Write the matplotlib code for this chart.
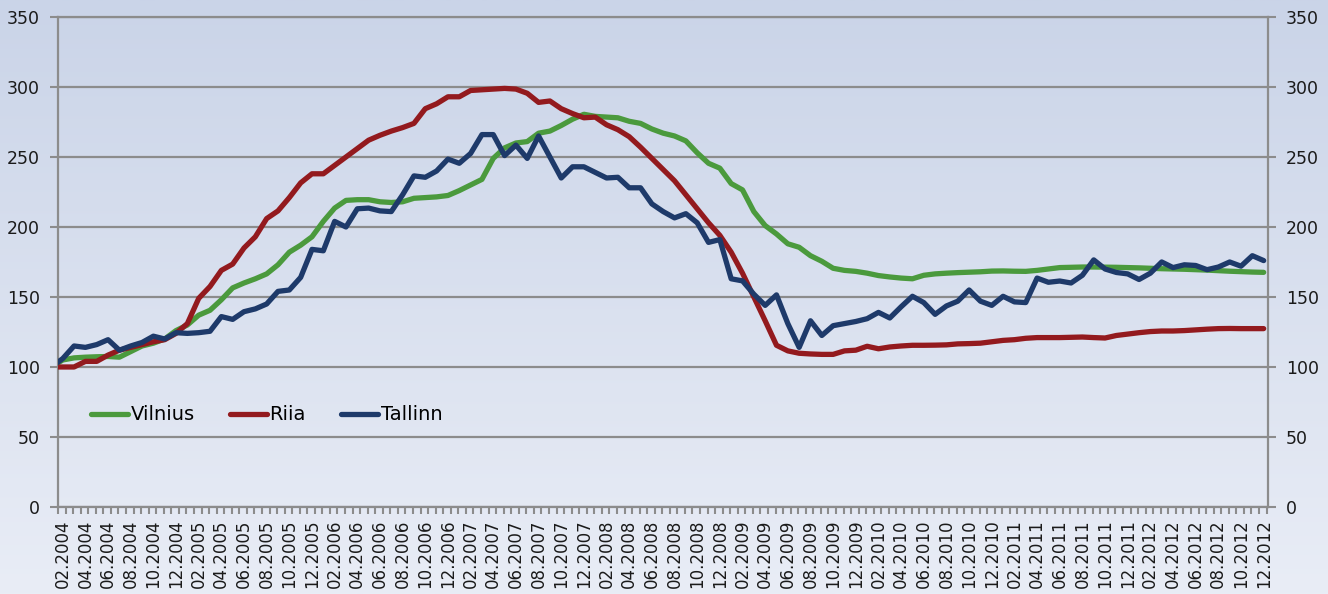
import numpy as np
import matplotlib.pyplot as plt
from matplotlib.colors import LinearSegmentedColormap

# monthly index values, 01.2004 .. 12.2012
vilnius = [100, 105, 106.5, 107, 107.3, 107.5, 107, 111, 115, 117, 120, 126,
           130, 137, 140.5, 148, 156.5, 160, 163, 166.5, 173, 182, 187, 193,
           204, 213.5, 219, 219.5, 219.5, 218, 217.5, 218, 220.5, 221, 221.5, 222.5,
           226, 230, 234, 249, 256.5, 260, 261, 267, 268.5, 272.5, 277, 280.5,
           279, 278.5, 278, 275.5, 274, 270, 267, 265, 261.5, 253, 245.5, 242,
           231, 226.5, 211, 201, 195, 188, 185.5, 179.5, 175.5, 170.5, 169, 168.3,
           167, 165.3, 164.3, 163.5, 163, 165.5, 166.5, 167, 167.4, 167.7, 168, 168.5,
           168.6, 168.4, 168.3, 169, 170, 171, 171.2, 171.4, 171.4, 171.3, 171.2, 171,
           170.8, 170.5, 170.2, 170, 169.8, 169.5, 169.2, 168.8, 168.4, 168.1, 167.8, 167.6]

riia = [100, 100, 100, 104, 104, 108.5, 112, 114, 116, 118, 119.5, 124,
        131, 149, 157.5, 169, 173.5, 185, 193, 206, 211.5, 221, 231.5, 238,
        238, 244, 250, 256, 262, 265.5, 268.5, 271, 274, 284.5, 288, 293,
        293, 297.5, 298, 298.5, 299, 298.5, 295.5, 289, 290, 284.5, 281, 278,
        278.5, 273, 269.5, 264.5, 257, 249, 241, 233, 223, 213, 203, 194,
        182, 167, 150, 133, 115.5, 111.5, 109.8, 109.3, 109, 109, 111.5, 112,
        114.8, 113, 114.3, 115, 115.5, 115.5, 115.6, 115.8, 116.5, 116.7, 117, 118,
        119, 119.5, 120.5, 121, 121, 121, 121.2, 121.4, 121, 120.7, 122.5, 123.5,
        124.5, 125.3, 125.7, 125.7, 126, 126.5, 127, 127.4, 127.5, 127.4, 127.4, 127.4]

tallinn = [100, 106, 115, 114, 116, 119.5, 112, 115, 117.5, 122, 120, 124.5,
           124, 124.5, 125.5, 136, 134, 139.5, 141.5, 145, 154, 155, 164, 184,
           183, 204, 200, 213, 213.5, 211.5, 211, 223, 236.5, 235.5, 240, 248.5,
           245.5, 252.5, 266, 266, 251, 258.5, 249, 265, 250, 235, 243, 243,
           239, 235, 235.5, 228, 228, 216.5, 211, 206.5, 209.5, 203, 189, 191,
           163, 161.5, 152, 144, 151.5, 131, 114, 133, 122.5, 129.5, 131, 132.5,
           134.5, 139, 135, 143, 150.5, 146, 137.6, 143.6, 147, 155, 147, 144,
           150.5, 146.5, 146, 163.5, 160.5, 161.4, 160, 165.5, 176.5, 170, 167.5, 166.5,
           162.5, 167, 175, 171, 173, 172.5, 169.5, 171.4, 175, 172, 179.5, 176]

tick_labels = [f"{m:02d}.{y}" for y in range(2004, 2013) for m in range(2, 13, 2)]

GREEN = '#4b9a3d'
RED = '#931a1e'
NAVY = '#1e3a6a'
GRID = '#8c8c8c'

fig = plt.figure(figsize=(13.28, 5.94), dpi=100)

# soft vertical gradient behind everything
bg = fig.add_axes([0, 0, 1, 1], zorder=-1)
grad_cmap = LinearSegmentedColormap.from_list('bg', ['#e9edf6', '#cad4e8'])
bg.imshow(np.linspace(0, 1, 256)[::-1].reshape(-1, 1), cmap=grad_cmap,
          aspect='auto', extent=[0, 1, 0, 1])
bg.axis('off')

ax = fig.add_axes([0.0437, 0.1465, 0.9111, 0.8249])
ax.set_facecolor('none')

x = np.arange(len(vilnius))
for vals, col, name in [(vilnius, GREEN, 'Vilnius'), (riia, RED, 'Riia'),
                        (tallinn, NAVY, 'Tallinn')]:
    ax.plot(x, vals, color=col, lw=3.8, label=name,
            solid_joinstyle='round', solid_capstyle='round', zorder=3)

ax.set_xlim(0.585, 107.38)
ax.set_ylim(0, 350)

ax.set_yticks(range(0, 351, 50))
ax.yaxis.grid(True, color=GRID, lw=1.6)
ax.set_axisbelow(True)
ax.tick_params(axis='y', direction='out', length=6, width=1.5, color=GRID,
               labelsize=12.5, pad=7, right=True, labelright=True,
               labelcolor='#1a1a1a')

ax.set_xticks(np.arange(1, 108, 2))
ax.set_xticklabels(tick_labels, rotation=90, fontsize=12, color='#1a1a1a')
ax.set_xticks(np.arange(0.585, 107.4, 2 / 3), minor=True)
ax.tick_params(axis='x', which='major', length=0, pad=9)
ax.tick_params(axis='x', which='minor', direction='out', length=5, width=1.5,
               color=GRID)

for side in ['left', 'right', 'bottom', 'top']:
    ax.spines[side].set_color(GRID)
    ax.spines[side].set_linewidth(1.6)

ax.legend(loc='center left', bbox_to_anchor=(0.027, 0.188), ncol=3,
          frameon=False, fontsize=14, handlelength=1.9, handletextpad=0.15,
          columnspacing=1.8, borderaxespad=0, borderpad=0)

fig.savefig('out.png', dpi=100)
